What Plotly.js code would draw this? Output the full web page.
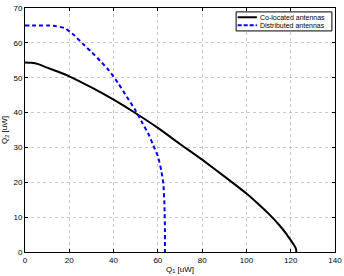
<!DOCTYPE html>
<html><head><meta charset="utf-8">
<script src="https://cdn.plot.ly/plotly-3.0.1.min.js"></script>
<style>html,body{margin:0;padding:0;background:#fff;}#chart{width:344px;height:276px;}</style>
</head><body><div id="chart"></div>
<script>
const colocX = [0,3,6,10,15,20,30,40,50,60,70,80,90,100,105,110,115,118,120,121.5,122.3,122.6];
const colocY = [54.4,54.3,53.9,52.9,51.7,50.4,47.2,43.7,39.8,35.6,31,26.5,21.7,16.8,14.0,11,7.6,5.2,3.4,2,1,0];
const distX = [0,5,10,14,18,22,26,30,34,38,42,46,50,53,56,58,60,61.5,62.5,63,63.2,63.2];
const distY = [65,65,65,64.8,64.2,62.3,59.8,57.4,54.8,52,48.5,44.5,40.5,37,33.5,30.5,27.5,23.5,19.5,13,6,0];
const seriesNames = ["Co-located antennas","Distributed antennas"];
const xTicks = [0,20,40,60,80,100,120,140];
const yTicks = [0,10,20,30,40,50,60,70];

const colors = ['#000000', '#0000ff'];
const dashes = ['solid', '4px,3px'];
const traces = [
  {x: colocX, y: colocY, name: seriesNames[0], mode: 'lines', line: {color: colors[0], width: 2, shape: 'spline', smoothing: 0.5}},
  {x: distX, y: distY, name: seriesNames[1], mode: 'lines', line: {color: colors[1], width: 2, dash: dashes[1], shape: 'spline', smoothing: 0.5}}
];
const axisCommon = {
  showline: true, linecolor: '#000', linewidth: 1, mirror: 'ticks',
  ticks: 'inside', ticklen: 3, tickcolor: '#000',
  showgrid: true, gridcolor: '#c8c8c8', griddash: 'dot', gridwidth: 1,
  zeroline: false, tickfont: {size: 8, color: '#000'}
};
// compact legend drawn with shapes + annotations
const lg = {x0: 0.681, x1: 0.990, y0: 0.906, y1: 0.984, lx0: 0.686, lx1: 0.748, tx: 0.752, rows: [0.962, 0.929]};
const shapes = [{type: 'rect', xref: 'paper', yref: 'paper', x0: lg.x0, x1: lg.x1, y0: lg.y0, y1: lg.y1,
  line: {color: '#000', width: 1}, fillcolor: '#fff', layer: 'above'}];
const annotations = [];
seriesNames.forEach((n, i) => {
  shapes.push({type: 'line', xref: 'paper', yref: 'paper', x0: lg.lx0, x1: lg.lx1, y0: lg.rows[i], y1: lg.rows[i],
    line: {color: colors[i], width: 2, dash: i === 0 ? 'solid' : '4px,2px'}, layer: 'above'});
  annotations.push({xref: 'paper', yref: 'paper', x: lg.tx, y: lg.rows[i], xanchor: 'left', yanchor: 'middle',
    text: n, showarrow: false, font: {size: 7, color: '#000'}});
});
const layout = {
  width: 344, height: 276,
  margin: {l: 25, r: 9, t: 8, b: 24},
  paper_bgcolor: '#fff', plot_bgcolor: '#fff',
  font: {family: 'Liberation Sans, Arial, sans-serif', size: 8, color: '#000'},
  showlegend: false,
  shapes: shapes, annotations: annotations,
  xaxis: Object.assign({}, axisCommon, {range: [0, 140], tickvals: xTicks, ticktext: xTicks.map(String),
    title: {text: 'Q<sub>1</sub> [uW]', font: {size: 8}, standoff: 2}}),
  yaxis: Object.assign({}, axisCommon, {range: [0, 70], tickvals: yTicks, ticktext: yTicks.map(String),
    title: {text: 'Q<sub>2</sub> [uW]', font: {size: 8}, standoff: 4}})
};
Plotly.newPlot('chart', traces, layout, {staticPlot: true});
</script></body></html>
